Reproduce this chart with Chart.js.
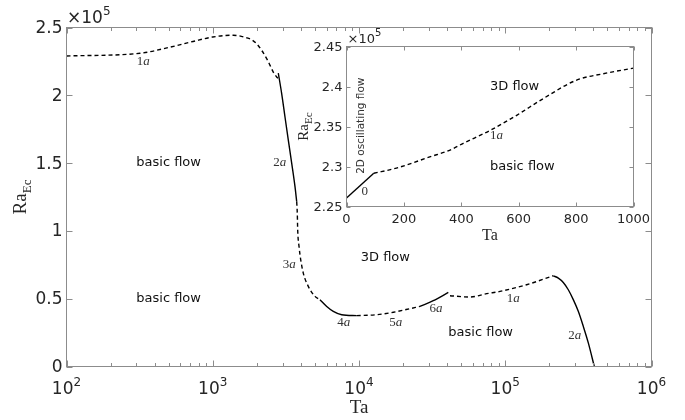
<!DOCTYPE html>
<html>
<head>
<meta charset="utf-8">
<script src="https://cdn.jsdelivr.net/npm/chart.js@4.4.0/dist/chart.umd.min.js"></script>
<style>
  html, body { margin: 0; padding: 0; background: #fff; }
  #wrap { position: relative; width: 685px; height: 420px; }
  #main { position: absolute; left: 0; top: 0; }
  #inset { position: absolute; left: 290px; top: 0; }
</style>
</head>
<body>
<div id="wrap">
  <canvas id="main" width="685" height="420"></canvas>
  <canvas id="inset" width="360" height="250"></canvas>
</div>
<script>
// Critical Rayleigh number branches, Ra in units of 1e5
const ta1aLeft = [100, 318, 510, 733, 1000, 1380, 1707, 1846, 1998, 2161, 2338, 2464, 2594, 2737, 2806];
const ra1aLeft = [2.29, 2.31, 2.355, 2.397, 2.43, 2.443, 2.424, 2.41, 2.38, 2.331, 2.27, 2.221, 2.171, 2.135, 2.123];
const ta2aLeft = [2806, 2960, 3119, 3286, 3467, 3651, 3750];
const ra2aLeft = [2.164, 2.013, 1.84, 1.669, 1.498, 1.326, 1.215];
const ta3a = [3750, 3785, 3809, 3890, 3995, 4160, 4500, 5000, 5410];
const ra3a = [1.215, 1.13, 1.007, 0.885, 0.787, 0.689, 0.591, 0.517, 0.493];
const ta4a = [5410, 6016, 6672, 7615, 9645];
const ra4a = [0.493, 0.443, 0.407, 0.382, 0.375];
const ta5a = [9645, 13200, 17180, 21000, 26100];
const ra5a = [0.375, 0.382, 0.40, 0.42, 0.443];
const ta6a = [26100, 32200, 40800];
const ra6a = [0.443, 0.485, 0.546];
const ta1aRight = [41900, 57400, 74700, 92000, 140000, 213000];
const ra1aRight = [0.522, 0.512, 0.537, 0.554, 0.603, 0.669];
const ta2aRight = [213100, 230600, 249400, 269900, 291900, 315800, 341700, 369800, 406300];
const ra2aRight = [0.669, 0.652, 0.62, 0.566, 0.493, 0.407, 0.296, 0.174, 0];

// zoom on low Ta
const taInset0 = [0, 95];
const raInset0 = [2.2605, 2.2916];
const taInset1a = [95, 174, 290, 361, 407, 500, 593, 686, 802, 895, 1000];
const raInset1a = [2.2916, 2.298, 2.312, 2.3206, 2.329, 2.345, 2.364, 2.385, 2.408, 2.416, 2.423];

// axes
const mainXMajor = [1e2, 1e3, 1e4, 1e5, 1e6];
const mainXExp = ['2', '3', '4', '5', '6'];
const mainYTicks = [0, 0.5, 1, 1.5, 2, 2.5];
const mainYLabels = ['0', '0.5', '1', '1.5', '2', '2.5'];
const insetXTicks = [0, 200, 400, 600, 800, 1000];
const insetYTicks = [2.25, 2.3, 2.35, 2.4, 2.45];
const insetYLabels = ['2.25', '2.3', '2.35', '2.4', '2.45'];

// region and branch labels, placed in data coordinates
const mainRegions = [
  { text: 'basic flow', ta: 300, ra: 1.5 },
  { text: 'basic flow', ta: 300, ra: 0.5 },
  { text: '3D flow', ta: 10280, ra: 0.8 },
  { text: 'basic flow', ta: 40800, ra: 0.25 }
];
const mainBranches = [
  { text: '1a', ta: 302, ra: 2.252 },
  { text: '2a', ta: 2594, ra: 1.502 },
  { text: '3a', ta: 3006, ra: 0.75 },
  { text: '4a', ta: 7110, ra: 0.321 },
  { text: '5a', ta: 16100, ra: 0.326 },
  { text: '6a', ta: 30300, ra: 0.424 },
  { text: '1a', ta: 102300, ra: 0.498 },
  { text: '2a', ta: 270000, ra: 0.228 }
];
const insetRegions = [
  { text: '3D flow', ta: 500, ra: 2.4 },
  { text: 'basic flow', ta: 500, ra: 2.3 }
];
const insetBranches = [
  { text: '1a', ta: 500, ra: 2.339 },
  { text: '0', ta: 52, ra: 2.269 }
];
const insetSideLabel = { text: '2D oscillating flow', ta: 52, ra: 2.351 };

const axisColor = '#8c8c8c';
const textColor = '#262626';
const SANS = '"DejaVu Sans", sans-serif';
const SERIF = '"Liberation Serif", serif';

function pts(xs, ys) { return xs.map((x, i) => ({ x, y: ys[i] })); }
function branch(xs, ys, dashed) {
  return {
    data: pts(xs, ys),
    borderColor: '#000',
    borderWidth: 1.4,
    borderDash: dashed ? [4, 3] : [],
    pointRadius: 0,
    cubicInterpolationMode: 'monotone',
    fill: false
  };
}

function tickLine(ctx, x1, y1, x2, y2) { ctx.moveTo(x1, y1); ctx.lineTo(x2, y2); }

// branch label: upright digit, italic letter
function drawBranchLabel(ctx, text, x, y, size) {
  ctx.textBaseline = 'middle';
  ctx.textAlign = 'left';
  ctx.fillStyle = '#333';
  const num = text.replace(/[a-z]/g, '');
  const letter = text.replace(/[0-9]/g, '');
  ctx.font = size + 'px ' + SERIF;
  ctx.fillText(num, x, y);
  const w = ctx.measureText(num).width;
  if (letter) {
    ctx.font = 'italic ' + size + 'px ' + SERIF;
    ctx.fillText(letter, x + w, y);
  }
}

// "×10^5" multiplier
function drawMultiplier(ctx, x, baseline, size, supSize) {
  ctx.fillStyle = textColor;
  ctx.textAlign = 'left';
  ctx.textBaseline = 'alphabetic';
  ctx.font = size + 'px ' + SANS;
  const s = '\u00d710';
  ctx.fillText(s, x, baseline);
  const w = ctx.measureText(s).width;
  ctx.font = supSize + 'px ' + SANS;
  ctx.fillText('5', x + w, baseline - size * 0.5);
}

// rotated "Ra_Ec"
function drawRaTitle(ctx, cx, cy, size) {
  ctx.save();
  ctx.translate(cx, cy);
  ctx.rotate(-Math.PI / 2);
  ctx.fillStyle = textColor;
  ctx.textBaseline = 'alphabetic';
  ctx.textAlign = 'left';
  ctx.font = size + 'px ' + SERIF;
  const w1 = ctx.measureText('Ra').width;
  const subSize = Math.round(size * 0.7);
  ctx.font = subSize + 'px ' + SERIF;
  const w2 = ctx.measureText('Ec').width;
  const x0 = -(w1 + w2) / 2;
  ctx.font = size + 'px ' + SERIF;
  ctx.fillText('Ra', x0, size * 0.33);
  ctx.font = subSize + 'px ' + SERIF;
  ctx.fillText('Ec', x0 + w1, size * 0.33 + size * 0.25);
  ctx.restore();
}

const mainFrame = {
  id: 'mainFrame',
  afterDraw(chart) {
    const { ctx, chartArea: a, scales } = chart;
    const sx = scales.x, sy = scales.y;
    ctx.save();
    ctx.strokeStyle = axisColor;
    ctx.lineWidth = 1;
    ctx.strokeRect(a.left, a.top, a.right - a.left, a.bottom - a.top);
    ctx.beginPath();
    mainXMajor.forEach((v, i) => {
      const p = Math.round(sx.getPixelForValue(v)) + 0.5;
      tickLine(ctx, p, a.bottom, p, a.bottom - 6);
      tickLine(ctx, p, a.top, p, a.top + 6);
      if (i < mainXMajor.length - 1) {
        for (let k = 2; k <= 9; k++) {
          const q = Math.round(sx.getPixelForValue(v * k)) + 0.5;
          tickLine(ctx, q, a.bottom, q, a.bottom - 3.5);
          tickLine(ctx, q, a.top, q, a.top + 3.5);
        }
      }
    });
    mainYTicks.forEach(v => {
      const p = Math.round(sy.getPixelForValue(v)) + 0.5;
      tickLine(ctx, a.left, p, a.left + 6, p);
      tickLine(ctx, a.right, p, a.right - 6, p);
    });
    ctx.stroke();

    // tick labels
    ctx.fillStyle = textColor;
    ctx.font = '17px ' + SANS;
    ctx.textAlign = 'right';
    ctx.textBaseline = 'middle';
    mainYTicks.forEach((v, i) => {
      ctx.fillText(mainYLabels[i], a.left - 4, sy.getPixelForValue(v) + 1);
    });
    mainXMajor.forEach((v, i) => {
      const p = sx.getPixelForValue(v);
      ctx.font = '17px ' + SANS;
      const w1 = ctx.measureText('10').width;
      ctx.font = '12px ' + SANS;
      const w2 = ctx.measureText(mainXExp[i]).width;
      const x0 = p - (w1 + w2) / 2;
      ctx.textAlign = 'left';
      ctx.textBaseline = 'alphabetic';
      ctx.font = '17px ' + SANS;
      ctx.fillText('10', x0, a.bottom + 27);
      ctx.font = '12px ' + SANS;
      ctx.fillText(mainXExp[i], x0 + w1, a.bottom + 19);
    });
    drawMultiplier(ctx, 67, 23, 17, 12);

    // axis titles
    ctx.font = '19px ' + SERIF;
    ctx.textAlign = 'center';
    ctx.textBaseline = 'alphabetic';
    ctx.fillText('Ta', (a.left + a.right) / 2, 413);
    drawRaTitle(ctx, 20, (a.top + a.bottom) / 2, 19);

    // region and branch labels
    ctx.font = '13px ' + SANS;
    ctx.fillStyle = '#111';
    ctx.textAlign = 'left';
    ctx.textBaseline = 'middle';
    mainRegions.forEach(r => ctx.fillText(r.text, sx.getPixelForValue(r.ta), sy.getPixelForValue(r.ra)));
    mainBranches.forEach(b => drawBranchLabel(ctx, b.text, sx.getPixelForValue(b.ta), sy.getPixelForValue(b.ra), 13));
    ctx.restore();
  }
};

const insetFrame = {
  id: 'insetFrame',
  afterDraw(chart) {
    const { ctx, chartArea: a, scales } = chart;
    const sx = scales.x, sy = scales.y;
    ctx.save();
    ctx.strokeStyle = axisColor;
    ctx.lineWidth = 1;
    ctx.strokeRect(a.left, a.top, a.right - a.left, a.bottom - a.top);
    ctx.beginPath();
    insetXTicks.forEach(v => {
      const p = Math.round(sx.getPixelForValue(v)) + 0.5;
      tickLine(ctx, p, a.bottom, p, a.bottom - 4);
      tickLine(ctx, p, a.top, p, a.top + 4);
    });
    insetYTicks.forEach(v => {
      const p = Math.round(sy.getPixelForValue(v)) + 0.5;
      tickLine(ctx, a.left, p, a.left + 4, p);
      tickLine(ctx, a.right, p, a.right - 4, p);
    });
    ctx.stroke();

    ctx.fillStyle = textColor;
    ctx.font = '13px ' + SANS;
    ctx.textAlign = 'right';
    ctx.textBaseline = 'middle';
    insetYTicks.forEach((v, i) => ctx.fillText(insetYLabels[i], a.left - 4, sy.getPixelForValue(v) + 1));
    ctx.textAlign = 'center';
    ctx.textBaseline = 'alphabetic';
    insetXTicks.forEach(v => ctx.fillText(String(v), sx.getPixelForValue(v), a.bottom + 16));
    drawMultiplier(ctx, a.left + 1, a.top - 4, 13, 10);

    ctx.font = '16px ' + SERIF;
    ctx.textAlign = 'center';
    ctx.fillText('Ta', (a.left + a.right) / 2, 240);
    drawRaTitle(ctx, 13, (a.top + a.bottom) / 2, 15);

    ctx.font = '13px ' + SANS;
    ctx.fillStyle = '#111';
    ctx.textAlign = 'left';
    ctx.textBaseline = 'middle';
    insetRegions.forEach(r => ctx.fillText(r.text, sx.getPixelForValue(r.ta), sy.getPixelForValue(r.ra)));
    insetBranches.forEach(b => drawBranchLabel(ctx, b.text, sx.getPixelForValue(b.ta), sy.getPixelForValue(b.ra), 13));

    ctx.save();
    ctx.translate(sx.getPixelForValue(insetSideLabel.ta), sy.getPixelForValue(insetSideLabel.ra));
    ctx.rotate(-Math.PI / 2);
    ctx.font = '10.5px ' + SANS;
    ctx.textAlign = 'center';
    ctx.fillText(insetSideLabel.text, 0, 0);
    ctx.restore();
    ctx.restore();
  }
};

function hiddenScale(extra, fit) {
  return Object.assign({
    ticks: { display: false },
    grid: { display: false },
    border: { display: false },
    afterFit: fit
  }, extra);
}

new Chart(document.getElementById('main'), {
  type: 'line',
  data: {
    datasets: [
      branch(ta1aLeft, ra1aLeft, true),
      branch(ta2aLeft, ra2aLeft, false),
      branch(ta3a, ra3a, true),
      branch(ta4a, ra4a, false),
      branch(ta5a, ra5a, true),
      branch(ta6a, ra6a, false),
      branch(ta1aRight, ra1aRight, true),
      branch(ta2aRight, ra2aRight, false)
    ]
  },
  options: {
    responsive: false,
    animation: false,
    devicePixelRatio: 1,
    layout: { padding: { left: 0, top: 27.5, right: 33.5, bottom: 0 } },
    plugins: { legend: { display: false }, tooltip: { enabled: false } },
    scales: {
      x: hiddenScale({ type: 'logarithmic', min: 100, max: 1e6 }, s => { s.height = 53.5; }),
      y: hiddenScale({ type: 'linear', min: 0, max: 2.5 }, s => { s.width = 66.5; })
    }
  },
  plugins: [mainFrame]
});

new Chart(document.getElementById('inset'), {
  type: 'line',
  data: {
    datasets: [
      branch(taInset0, raInset0, false),
      branch(taInset1a, raInset1a, true)
    ]
  },
  options: {
    responsive: false,
    animation: false,
    devicePixelRatio: 1,
    layout: { padding: { left: 0, top: 46.5, right: 16.5, bottom: 0 } },
    plugins: { legend: { display: false }, tooltip: { enabled: false } },
    scales: {
      x: hiddenScale({ type: 'linear', min: 0, max: 1000 }, s => { s.height = 43.5; }),
      y: hiddenScale({ type: 'linear', min: 2.25, max: 2.45 }, s => { s.width = 56.5; })
    }
  },
  plugins: [insetFrame]
});
</script>
</body>
</html>
